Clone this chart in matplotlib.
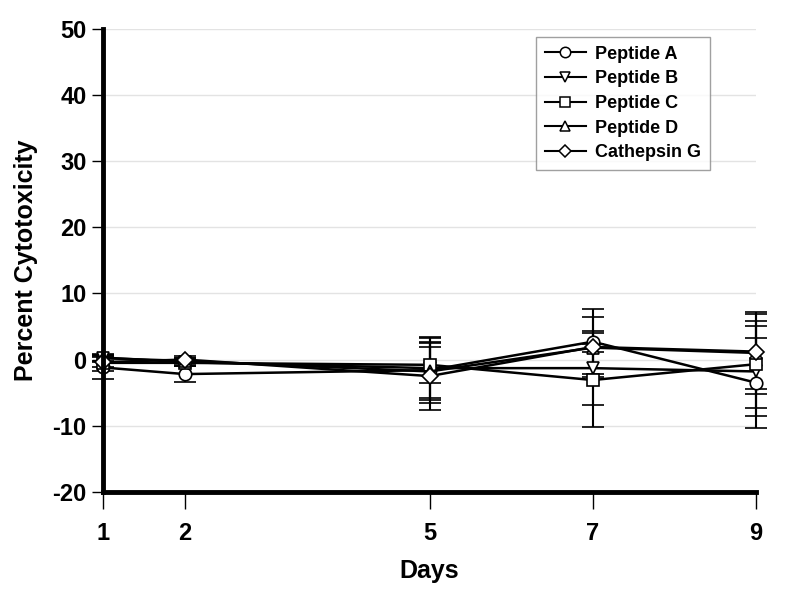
import matplotlib
matplotlib.use('Agg')
import matplotlib.pyplot as plt
from matplotlib.lines import Line2D

plt.rcParams['font.family'] = ['Liberation Sans', 'DejaVu Sans']
plt.rcParams['font.weight'] = 'bold'
plt.rcParams['axes.unicode_minus'] = False

days = [1, 2, 5, 7, 9]

series_names = ['Peptide A', 'Peptide B', 'Peptide C', 'Peptide D', 'Cathepsin G']
series_markers = ['o', 'v', 's', '^', 'D']

peptide_a = [-1.2, -2.2, -1.6, 2.7, -3.5]
peptide_a_sd = [1.7, 1.2, 5.0, 4.9, 6.8]
peptide_b = [0.3, -0.4, -1.3, -1.3, -1.8]
peptide_b_sd = [0.5, 0.6, 4.5, 5.6, 6.8]
peptide_c = [-0.5, -0.5, -0.8, -3.1, -0.7]
peptide_c_sd = [1.2, 0.5, 2.7, 7.1, 6.6]
peptide_d = [0.2, -0.2, -1.8, 1.8, 1.0]
peptide_d_sd = [0.5, 0.4, 4.3, 0.6, 6.2]
cathepsin_g = [-0.4, 0.0, -2.5, 1.9, 1.2]
cathepsin_g_sd = [0.8, 0.5, 5.1, 4.6, 5.7]

values = [peptide_a, peptide_b, peptide_c, peptide_d, cathepsin_g]
errors = [peptide_a_sd, peptide_b_sd, peptide_c_sd, peptide_d_sd, cathepsin_g_sd]

fig = plt.figure(figsize=(8, 5.89), dpi=100)
ax = fig.add_axes([0.129, 0.165, 0.816, 0.786])

handles = []
for name, marker, y, err in zip(series_names, series_markers, values, errors):
    ms = 8 if marker == 'D' else 9
    ax.errorbar(days, y, yerr=err, color='black', lw=1.8, marker=marker, ms=ms,
                mfc='white', mec='black', mew=1.2, capsize=8, capthick=1.8,
                elinewidth=1.5, clip_on=False)
    handles.append(Line2D([], [], color='black', lw=1.5, marker=marker,
                          ms=ms - 1.5, mfc='white', mec='black', mew=1.1, label=name))

ax.set_xlim(1, 9)
ax.set_ylim(-20, 50)
ax.set_xticks(days)
ax.set_yticks(range(-20, 51, 10))
ax.yaxis.grid(True, color='#e3e3e3', lw=1)
ax.set_axisbelow(True)

for side in ['top', 'right']:
    ax.spines[side].set_visible(False)
ax.spines['left'].set_linewidth(3.5)
ax.spines['bottom'].set_linewidth(3.5)
ax.tick_params(axis='y', direction='out', length=8, width=1, labelsize=17, pad=4)
ax.tick_params(axis='x', direction='out', length=12, width=1, labelsize=17, pad=10)

ax.set_xlabel('Days', fontsize=18, fontweight='bold', labelpad=10)
ax.set_ylabel('Percent Cytotoxicity', fontsize=18, fontweight='bold', labelpad=10)

leg = ax.legend(handles=handles, loc='upper right', bbox_to_anchor=(0.93, 0.983),
                fontsize=13, frameon=True, fancybox=False, edgecolor='#888888',
                handlelength=2.3, labelspacing=0.42, borderpad=0.5,
                handletextpad=0.5, borderaxespad=0)
leg.get_frame().set_linewidth(1)

fig.savefig('out.png', dpi=100)
